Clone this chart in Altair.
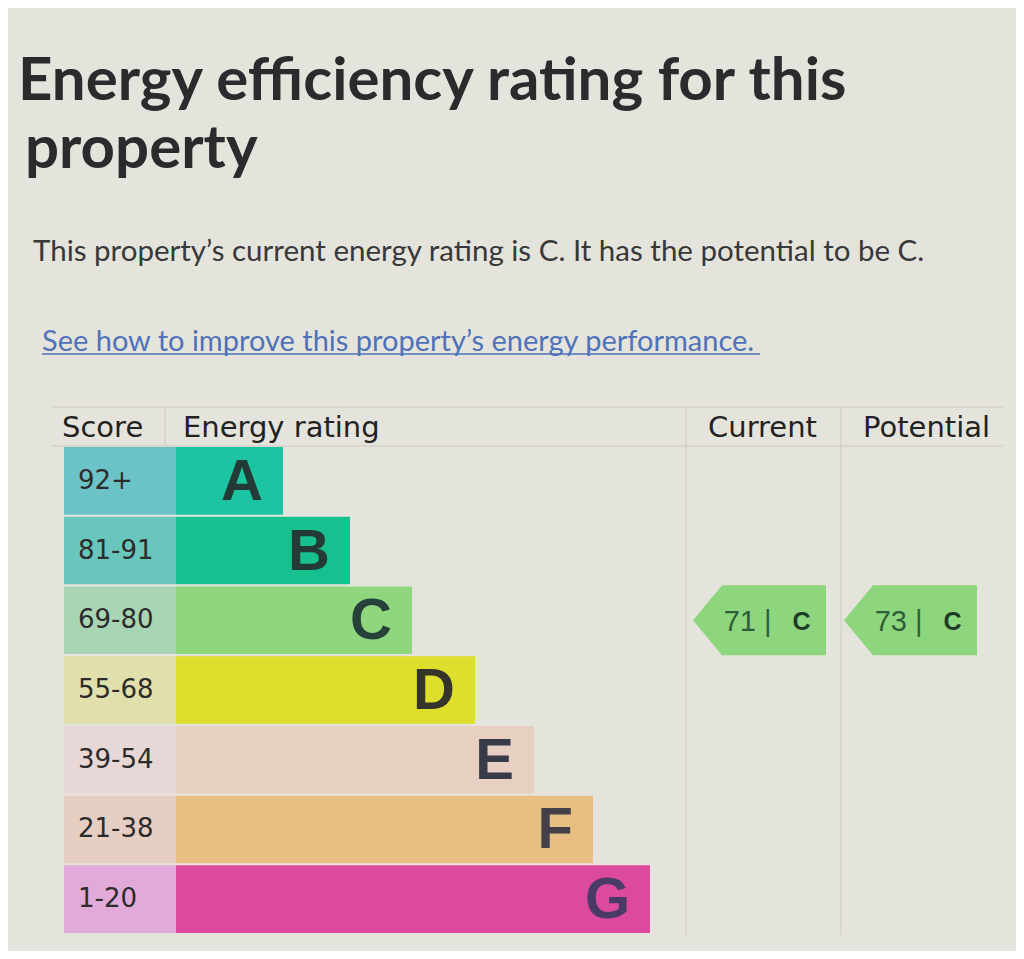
import altair as alt
import pandas as pd

# ---- data ----
ratings = ["A", "B", "C", "D", "E", "F", "G"]
score_ranges = ["92+", "81-91", "69-80", "55-68", "39-54", "21-38", "1-20"]
bar_lengths = [107, 174, 236, 299, 358, 417, 474]
bar_colors = ["#1cc4a2", "#16c18f", "#8fd77f", "#dedf2c", "#e7d0c2", "#e8be82", "#dc4a9e"]
score_colors = ["#6bc3c7", "#68c6bc", "#a8d5b4", "#e1dfac", "#e7d7d6", "#e6cfc2", "#e2aad8"]
letter_colors = ["#243a36", "#243a36", "#26413a", "#33352a", "#383a4a", "#44404a", "#4a3a66"]

columns = ["Current", "Potential"]
col_scores = [71, 73]
col_ratings = ["C", "C"]

title_lines = ["Energy efficiency rating for this", "property"]
summary = "This property\u2019s current energy rating is C. It has the potential to be C."
link_text = "See how to improve this property\u2019s energy performance."
headers = ["Score", "Energy rating", "Current", "Potential"]

BG = "#e5e4dc"
W, H = 1008, 943

bands = pd.DataFrame({
    "rating": ratings,
    "score": score_ranges,
    "length": bar_lengths,
    "bar_color": bar_colors,
    "score_color": score_colors,
    "letter_color": letter_colors,
})
arrows = pd.DataFrame({
    "column": columns,
    "score": col_scores,
    "rating": col_ratings,
})
arrows["num"] = arrows["score"].astype(str) + " |"

yscale = alt.Scale(domain=ratings, range=[439, 925], paddingInner=0.03, paddingOuter=0)
xscale = alt.Scale(domain=[0, 830], range=[168, 998])
Y = alt.Y("rating:N", scale=yscale, axis=None)

score_cells = alt.Chart(bands).mark_rect().encode(
    x=alt.value(56), x2=alt.value(168), y=Y,
    color=alt.Color("score_color:N", scale=None),
)
bars = alt.Chart(bands).transform_calculate(start="0").mark_bar().encode(
    x=alt.X("start:Q", scale=xscale, axis=None),
    x2=alt.X2("length:Q"),
    y=Y,
    color=alt.Color("bar_color:N", scale=None),
)
score_text = alt.Chart(bands).mark_text(
    align="left", baseline="middle", font="DejaVu Sans", fontSize=26, color="#2c2c2c"
).encode(x=alt.value(70), y=Y, text="score:N")
letters = alt.Chart(bands).mark_text(
    align="right", baseline="middle", font="Liberation Sans", fontWeight="bold", fontSize=58, dx=-20, dy=2
).encode(
    x=alt.X("length:Q", scale=xscale, axis=None), y=Y, text="rating:N",
    color=alt.Color("letter_color:N", scale=None),
)

arrow_path = "M -1 0 L -0.564 -0.526 L 1 -0.526 L 1 0.526 L -0.564 0.526 Z"
col_x = {"Current": 751.5, "Potential": 902.5}
arrow_layers = []
for col in columns:
    sub = alt.Chart(arrows).transform_filter(alt.datum.column == col)
    arrow_layers.append(sub.mark_point(shape=arrow_path, filled=True, size=133 * 133,
                                        color="#8ed67e", opacity=1, strokeWidth=0)
                        .encode(x=alt.value(col_x[col]), y=Y))
    arrow_layers.append(sub.mark_text(align="right", baseline="middle", font="Liberation Sans",
                                      fontSize=29, color="#2f5e38", dx=12, dy=2)
                        .encode(x=alt.value(col_x[col]), y=Y, text="num:N"))
    arrow_layers.append(sub.mark_text(align="left", baseline="middle", font="Liberation Sans",
                                      fontWeight="bold", fontSize=25, color="#1f3a28", dx=33, dy=2)
                        .encode(x=alt.value(col_x[col]), y=Y, text="rating:N"))


def text_layer(txt, x, y, size, weight="normal", color="#2a2a2a", font="Lato"):
    return alt.Chart(pd.DataFrame({"t": [txt]})).mark_text(
        align="left", baseline="alphabetic", font=font, fontSize=size, fontWeight=weight, color=color
    ).encode(x=alt.value(x), y=alt.value(y), text="t:N")


def rule_layer(x1, x2, y1, y2, color="#d3d2ca", width=1.5):
    return alt.Chart(pd.DataFrame({"r": [0]})).mark_rule(color=color, strokeWidth=width).encode(
        x=alt.value(x1), x2=alt.value(x2), y=alt.value(y1), y2=alt.value(y2)
    )


texts = [
    text_layer(title_lines[0], 10, 92, 60, "bold", "#2b2b2e"),
    text_layer(title_lines[1], 17, 160, 60, "bold", "#2b2b2e"),
    text_layer(summary, 25, 253, 29.5, "normal", "#38383a"),
    text_layer(link_text, 34, 343, 29, "normal", "#4f72b8"),
    text_layer(headers[0], 54, 429, 29, "normal", "#222222", "DejaVu Sans"),
    text_layer(headers[1], 175, 429, 29, "normal", "#222222", "DejaVu Sans"),
    text_layer(headers[2], 700, 429, 29, "normal", "#222222", "DejaVu Sans"),
    text_layer(headers[3], 855, 429, 29, "normal", "#222222", "DejaVu Sans"),
]
rules = [
    rule_layer(34, 752, 346, 346, "#4f72b8", 1.5),
    rule_layer(44, 995, 399, 399),
    rule_layer(44, 995, 438, 438),
    rule_layer(157, 157, 399, 438),
    rule_layer(678, 678, 399, 927),
    rule_layer(833, 833, 399, 927),
]

chart = alt.layer(
    *rules, score_cells, bars, score_text, letters, *arrow_layers, *texts
).properties(
    width=W, height=H, padding=0, autosize="none", background=BG
).configure_view(stroke=None)

chart.save("out.html", embed_options={"renderer": "svg", "actions": False})
